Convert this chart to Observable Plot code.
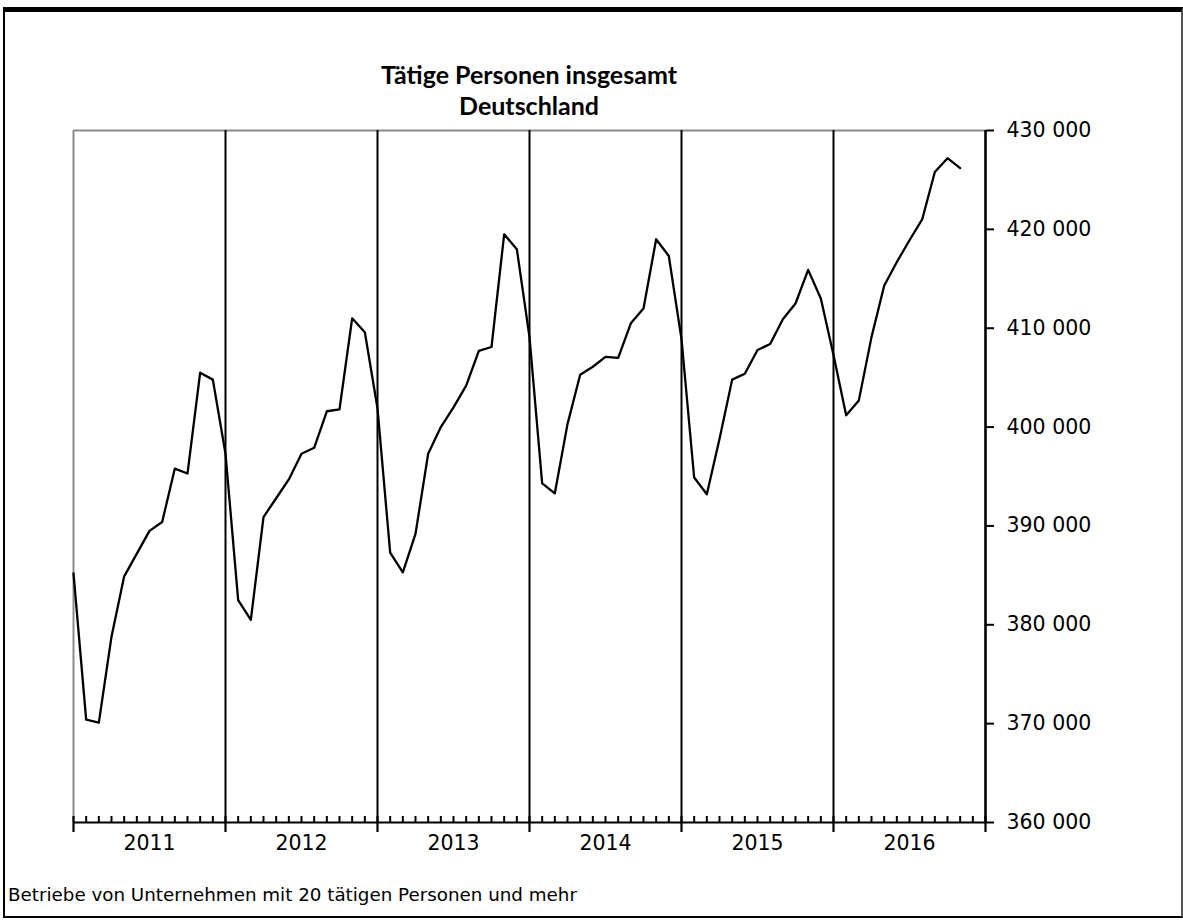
<!DOCTYPE html>
<html>
<head>
<meta charset="utf-8">
<script src="https://cdn.jsdelivr.net/npm/d3@7"></script>
<script src="https://cdn.jsdelivr.net/npm/@observablehq/plot@0.6"></script>
<style>
  html, body { margin: 0; padding: 0; background: #fff; overflow: hidden; }
  #page { position: relative; width: 1183px; height: 920px; }
  #frame { position: absolute; left: 3px; top: 7px; width: 1176px; height: 904px;
           border-top: 5px solid #000; border-left: 2px solid #000; border-right: 2px solid #555; border-bottom: 2px solid #000; }
  #title { position: absolute; left: 0; top: 59px; width: 1058px; text-align: center;
           font-family: "Lato", "DejaVu Sans", sans-serif; font-weight: bold; font-size: 25px; line-height: 31px; color: #000; }
  #caption { position: absolute; left: 8px; top: 883px; font-family: "DejaVu Sans", sans-serif; font-size: 18.3px; line-height: 24px; color: #000; }
  #chart svg { position: absolute; left: 0; top: 0; }
</style>
</head>
<body>
<div id="page">
  <div id="frame"></div>
  <div id="chart"></div>
  <div id="title">Tätige Personen insgesamt<br>Deutschland</div>
  <div id="caption">Betriebe von Unternehmen mit 20 tätigen Personen und mehr</div>
</div>
<script>
// Years and monthly values (Jan..Dec)
const years = [2011, 2012, 2013, 2014, 2015, 2016];
const v2011 = [385200, 370400, 370100, 378800, 384900, 387200, 389500, 390400, 395800, 395300, 405500, 404800];
const v2012 = [397300, 382500, 380500, 390900, 392800, 394700, 397300, 397900, 401600, 401800, 411000, 409600];
const v2013 = [401900, 387300, 385300, 389200, 397300, 400000, 402000, 404200, 407700, 408100, 419500, 418000];
const v2014 = [409100, 394300, 393300, 400300, 405300, 406100, 407100, 407000, 410500, 412000, 419000, 417300];
const v2015 = [408900, 394900, 393200, 398800, 404800, 405400, 407800, 408400, 410900, 412500, 415900, 413000];
const v2016 = [407300, 401200, 402700, 409100, 414300, 416700, 418900, 421000, 425800, 427200, 426200];
const yTicks = [360000, 370000, 380000, 390000, 400000, 410000, 420000, 430000];

const seriesByYear = [v2011, v2012, v2013, v2014, v2015, v2016];
const data = seriesByYear.flatMap((vals, i) => vals.map((v, m) => ({t: years[i] + m / 12, v})));
const yearBounds = years.concat([years[years.length - 1] + 1]);
const monthTicks = d3.range(years[0] * 12, (years[years.length - 1] + 1) * 12).map(k => k / 12)
  .filter(t => Math.abs(t - Math.round(t)) > 1e-9);

const fmt = d => d3.format(",")(d).replace(/,/g, " ");

const chart = Plot.plot({
  width: 1183,
  height: 860,
  marginLeft: 73,
  marginRight: 198,
  marginTop: 130,
  marginBottom: 38,
  x: {domain: [yearBounds[0], yearBounds[yearBounds.length - 1]], axis: null},
  y: {domain: [yTicks[0], yTicks[yTicks.length - 1]], axis: null},
  style: {fontFamily: "DejaVu Sans, sans-serif", fontSize: "20px", color: "#000", background: "transparent"},
  marks: [
    Plot.ruleY([yTicks[yTicks.length - 1]], {stroke: "#8a8a8a", strokeWidth: 2}),
    Plot.ruleX([yearBounds[0]], {stroke: "#8a8a8a", strokeWidth: 2}),
    Plot.ruleX(yearBounds.slice(1, -1), {stroke: "#000", strokeWidth: 2}),
    Plot.line(data, {x: "t", y: "v", stroke: "#000", strokeWidth: 2.3}),
    Plot.ruleY([yTicks[0]], {stroke: "#000", strokeWidth: 2.2}),
    Plot.ruleX([yearBounds[yearBounds.length - 1]], {stroke: "#000", strokeWidth: 2.6}),
    Plot.axisX(monthTicks, {anchor: "bottom", tickSize: 6, dy: -6, strokeWidth: 2, tickFormat: () => "", label: null}),
    Plot.axisX(yearBounds, {anchor: "bottom", tickSize: 16, dy: -6, strokeWidth: 2.2, tickFormat: () => "", label: null}),
    Plot.axisY(yTicks, {anchor: "right", tickSize: 8, tickPadding: 13, strokeWidth: 2, tickFormat: fmt, fontSize: 20.5, label: null}),
    Plot.text(years, {x: d => d + 0.5, y: () => yTicks[0], text: d => String(d), dy: 21, lineAnchor: "middle", fontSize: 20.5, fill: "#000"})
  ]
});
document.getElementById("chart").appendChild(chart);
</script>
</body>
</html>
